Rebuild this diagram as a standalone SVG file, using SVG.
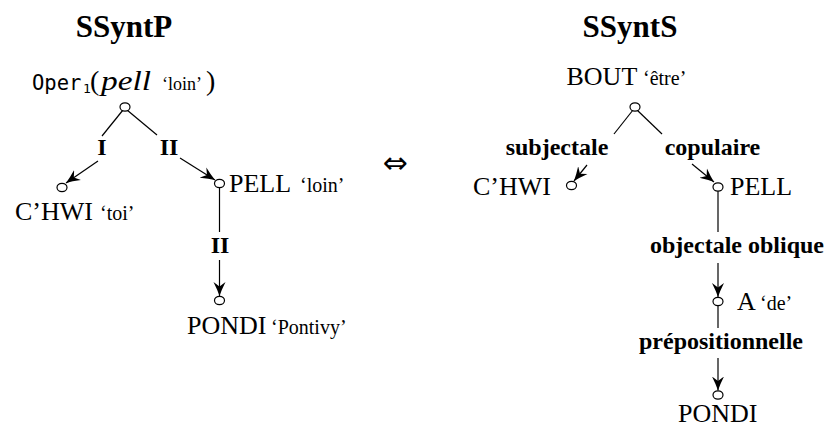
<svg xmlns="http://www.w3.org/2000/svg" width="826" height="427" viewBox="0 0 826 427">
<defs>
<marker id="arr" markerUnits="userSpaceOnUse" markerWidth="15" markerHeight="13" refX="14" refY="6.5" orient="auto" viewBox="0 0 15 13">
<path d="M0,0.5 Q8,4.5 14,6.5 Q8,8.5 0,12.5 L4.5,6.5 Z" fill="#000"/>
</marker>
</defs>
<style>
text{font-family:"Liberation Serif","Times New Roman",serif;fill:#000}
.title{font-size:31px;font-weight:bold;text-anchor:middle}
.lex{font-size:26px}
.gl{font-size:20px}
.rel{font-size:24px;font-weight:bold;text-anchor:middle}
.mono{font-family:"DejaVu Sans Mono",monospace}
.n{fill:#fff;stroke:#000;stroke-width:1.2}
.e{stroke:#000;stroke-width:1.2;fill:none}
.ea{stroke:#000;stroke-width:1.2;fill:none;marker-end:url(#arr)}
</style>
<rect width="826" height="427" fill="#fff"/>
<text class="title" x="124" y="37">SSyntP</text>
<text class="title" x="630" y="37">SSyntS</text>
<text x="395" y="173" font-size="30" text-anchor="middle" style="font-family:'DejaVu Sans',sans-serif">⇔</text>

<g id="connectors">
<line class="e" x1="123" y1="110" x2="102" y2="136"/>
<line class="ea" x1="98" y1="161" x2="66" y2="183"/>
<text class="rel" x="102" y="155">I</text>
<line class="e" x1="127" y1="110" x2="157" y2="135"/>
<line class="ea" x1="180" y1="158" x2="215" y2="180"/>
<text class="rel" x="169" y="155">II</text>
<line class="e" x1="219.5" y1="187" x2="219.5" y2="232"/>
<text class="rel" x="220" y="253">II</text>
<line class="ea" x1="219.5" y1="260" x2="219.5" y2="296"/>

<line class="e" x1="633" y1="110" x2="614" y2="134"/>
<line class="e" x1="637" y1="110" x2="662" y2="134"/>
<text class="rel" x="557" y="155">subjectale</text>
<text class="rel" x="712.5" y="155">copulaire</text>
<line class="ea" x1="587" y1="165" x2="574" y2="181"/>
<line class="ea" x1="692" y1="164" x2="714" y2="182"/>
<line class="e" x1="718" y1="190.5" x2="718" y2="232"/>
<text class="rel" x="737" y="253">objectale oblique</text>
<line class="ea" x1="718" y1="263" x2="718" y2="297"/>
<line class="e" x1="718" y1="305.5" x2="718" y2="328"/>
<text class="rel" x="721" y="349">prépositionnelle</text>
<line class="ea" x1="718" y1="358" x2="718" y2="390.5"/>
</g>

<g id="p-oper">
<ellipse class="n" cx="125" cy="107" rx="5" ry="4.2"/>
<text class="mono" x="32" y="90" font-size="20.5">Oper</text>
<text class="mono" x="83" y="93" font-size="13">1</text>
<text x="90" y="90" font-size="28">(</text>
<text x="101" y="90" font-size="27" font-style="italic" textLength="50" lengthAdjust="spacingAndGlyphs">pell</text>
<text x="162" y="90" style="font-size:18px">‘loin’</text>
<text x="206" y="90" font-size="28">)</text>
</g>
<g id="p-chwi">
<ellipse class="n" cx="62" cy="187.5" rx="5" ry="4.2"/>
<text class="lex" x="15" y="220">C’HWI</text>
<text class="gl" x="100" y="220">‘toi’</text>
</g>
<g id="p-pell">
<ellipse class="n" cx="219.5" cy="183.5" rx="5" ry="4.2"/>
<text class="lex" x="229" y="192">PELL</text>
<text class="gl" x="300" y="192">‘loin’</text>
</g>
<g id="p-pondi">
<ellipse class="n" cx="219.5" cy="300.5" rx="5" ry="4.2"/>
<text class="lex" x="187" y="334">PONDI</text>
<text class="gl" x="271" y="334">‘Pontivy’</text>
</g>

<g id="s-bout">
<ellipse class="n" cx="635" cy="107" rx="5" ry="4.2"/>
<text class="lex" x="566.5" y="85">BOUT</text>
<text class="gl" x="643" y="85">‘être’</text>
</g>
<g id="s-chwi">
<ellipse class="n" cx="571.5" cy="185.5" rx="5" ry="4.2"/>
<text class="lex" x="473" y="195">C’HWI</text>
</g>
<g id="s-pell">
<ellipse class="n" cx="718" cy="187" rx="5" ry="4.2"/>
<text class="lex" x="730" y="195">PELL</text>
</g>
<g id="s-a">
<ellipse class="n" cx="718" cy="301.5" rx="5" ry="4.2"/>
<text class="lex" x="737" y="310">A</text>
<text class="gl" x="760" y="310">‘de’</text>
</g>
<g id="s-pondi">
<ellipse class="n" cx="718" cy="395" rx="5" ry="4.2"/>
<text class="lex" x="678" y="421.5">PONDI</text>
</g>
</svg>
